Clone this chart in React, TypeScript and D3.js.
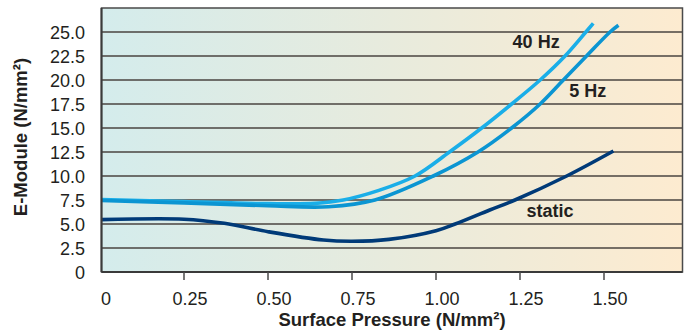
import React from "react";
import * as d3 from "d3";

const xTicks = [0, 0.25, 0.5, 0.75, 1.0, 1.25, 1.5];
const xTickLabels = ["0", "0.25", "0.50", "0.75", "1.00", "1.25", "1.50"];
const yTicks = [0, 2.5, 5, 7.5, 10, 12.5, 15, 17.5, 20, 22.5, 25];
const yTickLabels = ["0", "2.5", "5.0", "7.5", "10.0", "12.5", "15.0", "17.5", "20.0", "22.5", "25.0"];

const x40 = [0, 0.25, 0.5, 0.64, 0.724, 0.83, 0.9375, 1.04, 1.136, 1.225, 1.31, 1.384, 1.446, 1.468];
const y40 = [7.55, 7.33, 7.12, 7.15, 7.5, 8.5, 10.0, 12.5, 15.0, 17.5, 20.0, 22.5, 25.0, 25.9];

const x5 = [0, 0.25, 0.5, 0.68, 0.818, 0.992, 1.125, 1.225, 1.31, 1.379, 1.448, 1.518, 1.543];
const y5 = [7.45, 7.2, 6.9, 6.8, 7.5, 10.0, 12.5, 15.0, 17.5, 20.0, 22.5, 25.0, 25.7];

const xStatic = [0, 0.25, 0.37, 0.5, 0.665, 0.75, 0.86, 1.0, 1.057, 1.16, 1.235, 1.389, 1.528];
const yStatic = [5.45, 5.5, 5.07, 4.2, 3.33, 3.2, 3.4, 4.3, 5.0, 6.46, 7.5, 10.0, 12.6];

const seriesNames = ["40 Hz", "5 Hz", "static"];
const labelX = [1.298, 1.452, 1.339];
const labelY = [23.85, 18.75, 6.25];

const W = 684;
const H = 330;
const left = 101.5;
const right = 682.5;
const top = 8;
const bottom = 272;

export default function App() {
  const x = d3.scaleLinear().domain([0, 1.5]).range([100, 604]);
  const y = d3.scaleLinear().domain([0, 27.5]).range([bottom, top]);
  const line = d3
    .line<[number, number]>()
    .x((d) => x(d[0]))
    .y((d) => y(d[1]))
    .curve(d3.curveCatmullRom.alpha(0.5));

  const series = [
    { name: seriesNames[0], xs: x40, ys: y40, color: "#1aaee8" },
    { name: seriesNames[1], xs: x5, ys: y5, color: "#0b95d2" },
    { name: seriesNames[2], xs: xStatic, ys: yStatic, color: "#003a78" },
  ];

  const font = "'Liberation Sans', Arial, Helvetica, sans-serif";
  const textColor = "#231f20";

  return (
    <svg
      width={W}
      height={H}
      style={{ position: "absolute", left: 0, top: 0, background: "#fff" }}
      fontFamily={font}
    >
      <defs>
        <linearGradient id="bg" x1="0" y1="0" x2="1" y2="0">
          <stop offset="0" stopColor="#d4ecec" />
          <stop offset="0.5" stopColor="#e8ebdd" />
          <stop offset="1" stopColor="#fdebd0" />
        </linearGradient>
        <clipPath id="clip">
          <rect x={left} y={top} width={right - left} height={bottom - top} />
        </clipPath>
      </defs>
      <rect x={left} y={top} width={right - left} height={bottom - top} fill="url(#bg)" />
      {yTicks.slice(1).map((t) => (
        <line key={t} x1={left} x2={right} y1={y(t)} y2={y(t)} stroke="#4a4541" strokeWidth={1.6} />
      ))}
      <g clipPath="url(#clip)">
        {series.map((s) => (
          <path
            key={s.name}
            d={line(s.xs.map((v, i) => [v, s.ys[i]] as [number, number])) || ""}
            fill="none"
            stroke={s.color}
            strokeWidth={3.6}
          />
        ))}
      </g>
      <rect x={left} y={top} width={right - left} height={bottom - top} fill="none" stroke="#4a4a4a" strokeWidth={1.5} />
      <line x1={left} x2={left} y1={top} y2={bottom} stroke="#3a3a3a" strokeWidth={2} />
      <line x1={left} x2={right} y1={bottom} y2={bottom} stroke="#3a3a3a" strokeWidth={2} />
      {xTicks.slice(1).map((t) => (
        <line key={t} x1={x(t)} x2={x(t)} y1={bottom} y2={bottom + 8} stroke="#4a4a4a" strokeWidth={1.5} />
      ))}
      {xTicks.map((t, i) => (
        <text key={t} x={x(t) + 6} y={305} textAnchor="middle" fontSize={18} fill={textColor}>
          {xTickLabels[i]}
        </text>
      ))}
      {yTicks.map((t, i) => (
        <text key={t} x={85} y={y(t) + 2.5} textAnchor="end" dominantBaseline="middle" fontSize={18} fill={textColor}>
          {yTickLabels[i]}
        </text>
      ))}
      {series.map((s, i) => (
        <text
          key={s.name + "l"}
          x={x(labelX[i])}
          y={y(labelY[i])}
          textAnchor="middle"
          dominantBaseline="middle"
          fontSize={18}
          fontWeight="bold"
          fill={textColor}
        >
          {s.name}
        </text>
      ))}
      <text x={392} y={326} textAnchor="middle" fontSize={18.5} fontWeight="bold" fill={textColor}>
        Surface Pressure (N/mm²)
      </text>
      <text
        transform="translate(22,137) rotate(-90)"
        textAnchor="middle"
        dominantBaseline="middle"
        fontSize={18.5}
        fontWeight="bold"
        fill={textColor}
      >
        E-Module (N/mm²)
      </text>
    </svg>
  );
}
